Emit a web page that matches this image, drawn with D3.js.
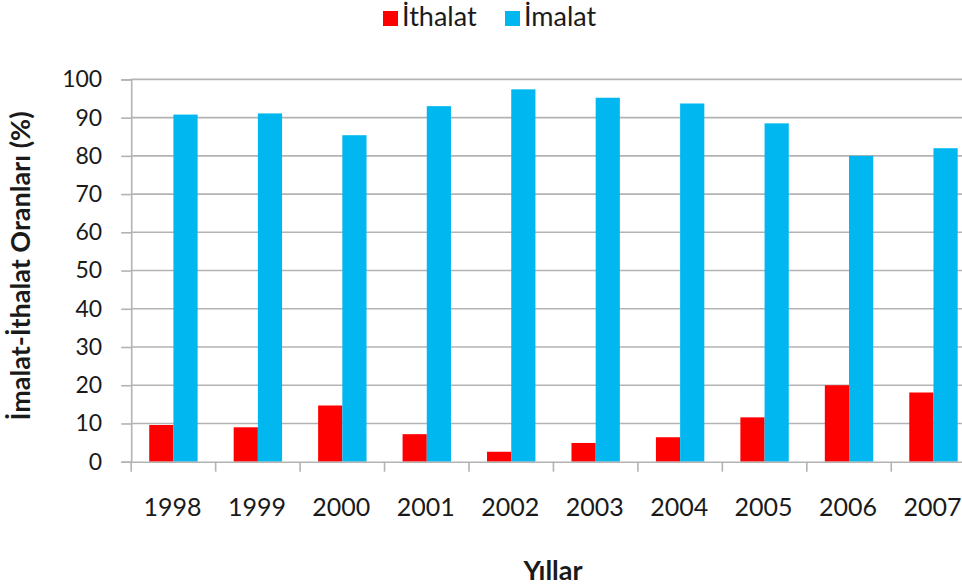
<!DOCTYPE html>
<html><head><meta charset="utf-8">
<script src="https://cdn.jsdelivr.net/npm/d3@7"></script>
<style>body{margin:0;background:#fff;overflow:hidden}svg{display:block}text{font-family:Lato,"Open Sans",sans-serif;fill:#1a1a1a}</style>
</head><body>
<svg id="c" width="962" height="587"></svg>
<script>
const years = ["1998","1999","2000","2001","2002","2003","2004","2005","2006","2007"];
const ithalat = [9.6, 9.0, 14.7, 7.2, 2.6, 4.9, 6.4, 11.6, 20.0, 18.1];
const imalat = [90.8, 91.1, 85.4, 93.0, 97.4, 95.2, 93.7, 88.5, 80.0, 82.0];
const seriesNames = ["İthalat", "İmalat"];
const colors = ["#ff0000", "#00b7f0"];
const yTicks = [0,10,20,30,40,50,60,70,80,90,100];

(function(){
const svg = d3.select("#c");
const pl = 131.2, pr = 975.7, pt = 79.4, pb = 461.7;
const x = d3.scaleBand().domain(years).range([pl, pr]).paddingInner(0).paddingOuter(0);
const x1 = d3.scaleBand().domain(seriesNames).range([0, x.bandwidth()]).paddingOuter(0.745).paddingInner(0);
const y = d3.scaleLinear().domain([0,100]).range([pb, pt]);

// gridlines
svg.append("g").selectAll("line").data(yTicks.filter(d=>d>0)).join("line")
  .attr("x1", pl).attr("x2", 962).attr("y1", d=>y(d)).attr("y2", d=>y(d))
  .attr("stroke", "#b3b3b3").attr("stroke-width", 1.6);

// bars
const data = years.map((yr,i)=>({yr, vals:[ithalat[i], imalat[i]]}));
const g = svg.append("g").selectAll("g").data(data).join("g")
  .attr("transform", d=>`translate(${x(d.yr)},0)`);
g.selectAll("rect").data(d=>d.vals.map((v,j)=>({v, s:seriesNames[j], c:colors[j]}))).join("rect")
  .attr("x", d=>x1(d.s)).attr("width", x1.bandwidth())
  .attr("y", d=>y(d.v)).attr("height", d=>pb - y(d.v))
  .attr("fill", d=>d.c);

// y axis
const ya = svg.append("g").attr("transform", `translate(${pl},0)`)
  .call(d3.axisLeft(y).tickValues(yTicks).tickSize(10).tickPadding(19));
ya.select(".domain").attr("stroke", "#b3b3b3").attr("stroke-width", 1.6);
ya.selectAll(".tick line").attr("stroke", "#b3b3b3").attr("stroke-width", 1.6);
ya.selectAll("text").style("font-size", "23px").style("font-family", "Lato").attr("fill", "#1a1a1a");

// x axis
const xa = svg.append("g").attr("transform", `translate(0,${pb})`)
  .call(d3.axisBottom(x).tickSize(0).tickPadding(37));
xa.select(".domain").attr("stroke", "#b3b3b3").attr("stroke-width", 1.6);
xa.selectAll("text").style("font-size", "25px").style("font-family", "Lato").attr("fill", "#1a1a1a").attr("dx", "-1");
svg.append("g").selectAll("line").data(years).join("line")
  .attr("x1", d=>x(d)).attr("x2", d=>x(d)).attr("y1", pb).attr("y2", pb+10)
  .attr("stroke", "#b3b3b3").attr("stroke-width", 1.6);

// axis titles
svg.append("text").attr("x", 553).attr("y", 580).attr("text-anchor","middle")
  .style("font-size","27px").style("font-weight","bold").text("Yıllar");
svg.append("text").attr("transform","translate(30,266) rotate(-90)").attr("text-anchor","middle")
  .style("font-size","27px").style("font-weight","bold").text("İmalat-İthalat Oranları (%)");

// legend
const legX = [383, 505];
const lg = svg.append("g").selectAll("g").data(seriesNames).join("g")
  .attr("transform", (d,i)=>`translate(${legX[i]},11)`);
lg.append("rect").attr("width", 15).attr("height", 15).attr("fill", (d,i)=>colors[i]);
lg.append("text").attr("x", 19).attr("y", 15).style("font-size","27px").text(d=>d);
})();
</script>
</body></html>
